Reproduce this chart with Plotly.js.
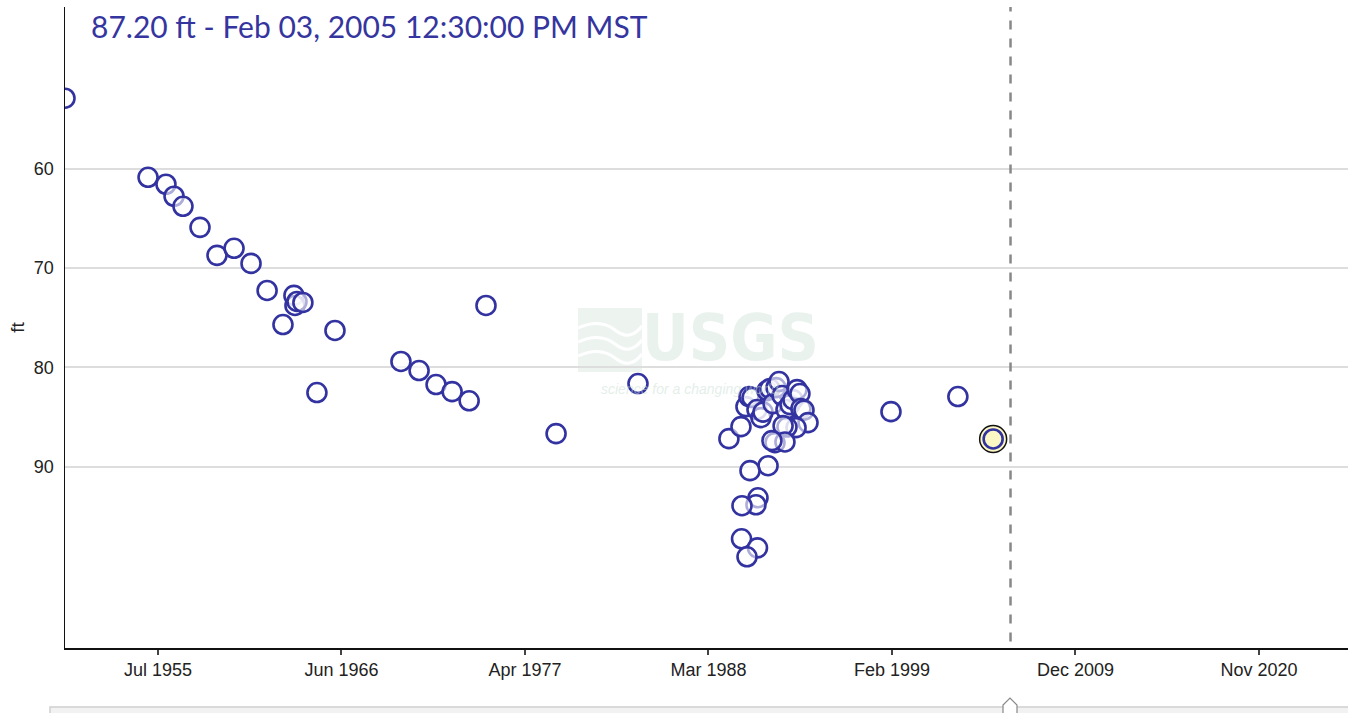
<!DOCTYPE html>
<html>
<head>
<meta charset="utf-8">
<script src="https://cdn.plot.ly/plotly-3.0.1.min.js"></script>
<style>
  html, body { margin: 0; padding: 0; background: #fff; }
  #chart { width: 1348px; height: 713px; }
</style>
</head>
<body>
<div id="chart"></div>
<script>
// ---- data ----
const measurementDates = [
  "1950-01-08", "1954-12-13", "1956-01-05", "1956-06-28", "1957-01-08",
  "1958-01-12", "1959-01-15", "1960-01-20", "1961-01-22", "1962-01-05",
  "1962-12-15", "1963-08-10", "1963-09-01", "1963-10-15", "1964-02-20",
  "1964-12-20", "1966-01-15", "1969-12-15", "1971-01-12", "1972-01-15",
  "1972-12-28", "1974-01-01", "1975-01-01", "1979-02-28", "1984-01-08",
  "1989-06-01", "1990-02-17", "1990-06-05", "1990-08-10", "1990-10-15",
  "1991-01-30", "1991-04-27", "1991-06-10", "1991-09-05", "1991-11-07",
  "1992-01-12", "1992-03-17", "1992-05-22", "1992-07-27", "1992-10-20",
  "1993-01-15", "1993-03-20", "1993-06-16", "1993-08-18", "1993-09-09",
  "1993-11-14", "1994-02-09", "1993-05-26", "1992-11-10", "1992-08-18",
  "1992-02-24", "1992-09-27", "1991-12-20", "1991-09-27", "1990-09-01",
  "1991-02-21", "1991-01-08", "1990-03-11", "1990-03-01", "1991-02-10",
  "1990-06-28", "1999-01-12", "2003-01-01", "2005-02-03 12:30:00"
];
const depthFt = [
  52.90, 60.86, 61.56, 62.77, 63.78,
  65.90, 68.72, 68.01, 69.53, 72.25,
  75.68, 72.75, 73.76, 73.36, 73.46,
  82.53, 76.28, 79.40, 80.31, 81.72,
  82.43, 83.36, 73.76, 86.66, 81.62,
  87.17, 85.96, 83.94, 82.93, 83.03,
  84.24, 85.05, 84.50, 82.33, 82.13,
  83.64, 82.03, 81.42, 82.83, 84.24,
  83.74, 83.24, 82.23, 82.63, 84.14,
  84.30, 85.55, 86.06, 86.00, 85.86,
  87.57, 87.50, 87.37, 89.89, 90.39,
  93.12, 93.82, 93.92, 97.25, 98.16,
  99.06, 84.45, 82.93, 87.20
];
const selectedDate = ["2005-02-03 12:30:00"];
const selectedDepth = [87.20];
const titleText = "87.20 ft - Feb 03, 2005 12:30:00 PM MST";

const xTickVals = ["1955-07-15", "1966-06-04", "1977-04-24", "1988-03-14",
                   "1999-02-02", "2009-12-23", "2020-11-12"];
const xTickText = ["Jul 1955", "Jun 1966", "Apr 1977", "Mar 1988",
                   "Feb 1999", "Dec 2009", "Nov 2020"];
const yTickVals = [60, 70, 80, 90];
const xRange = ["1950-01-08", "2026-02-24"];
const yRange = [108.24, 43.72];
const markerDate = "2006-02-15";

const blue = "#3232a0";

const traces = [
  {
    type: "scatter", mode: "markers",
    x: measurementDates, y: depthFt,
    marker: { symbol: "circle", size: 19, color: "rgba(255,255,255,0.6)",
              line: { color: blue, width: 2.6 } },
    hoverinfo: "x+y", cliponaxis: true
  },
  {
    type: "scatter", mode: "markers",
    x: selectedDate, y: selectedDepth,
    marker: { symbol: "circle", size: 27, color: "#fbf7c4",
              line: { color: "#111", width: 1.5 } },
    hoverinfo: "skip"
  },
  {
    type: "scatter", mode: "markers",
    x: selectedDate, y: selectedDepth,
    marker: { symbol: "circle", size: 19, color: "#fbf7c4",
              line: { color: blue, width: 2.6 } },
    hoverinfo: "skip"
  }
];

const px = v => (v - 65) / 1283;
const py = v => (648 - v) / 641;

const layout = {
  width: 1348, height: 713,
  margin: { l: 65, r: 0, t: 7, b: 65, pad: 0 },
  paper_bgcolor: "#fff", plot_bgcolor: "#fff",
  showlegend: false,
  font: { family: "Liberation Sans, Arial, sans-serif", color: "#222" },
  title: {
    text: titleText,
    x: 91 / 1348, xref: "container", xanchor: "left",
    y: 1 - 27 / 713, yref: "container", yanchor: "middle",
    font: { family: "Lato, sans-serif", size: 30, color: "#3535a0" }
  },
  xaxis: {
    type: "date", range: xRange,
    tickmode: "array", tickvals: xTickVals, ticktext: xTickText,
    showgrid: false, zeroline: false,
    showline: true, linecolor: "#111", linewidth: 1.5,
    ticks: "outside", ticklen: 5, tickwidth: 2, tickcolor: "#444",
    tickfont: { size: 18, color: "#222" }
  },
  yaxis: {
    range: yRange,
    tickmode: "array", tickvals: yTickVals,
    showgrid: true, gridcolor: "#dddddd", gridwidth: 2,
    zeroline: false, showline: true, linecolor: "#111", linewidth: 1.5,
    ticks: "", ticklabelstandoff: 6,
    tickfont: { size: 18, color: "#222" },
    title: { text: "ft", font: { size: 19, color: "#222" }, standoff: 4 }
  },
  shapes: [
    // USGS watermark wave block
    { type: "rect", xref: "paper", yref: "paper", layer: "below",
      x0: px(578), x1: px(642), y0: py(372), y1: py(308),
      fillcolor: "#edf4f0", line: { width: 0 } },
    { type: "path", xref: "paper", yref: "paper", layer: "below",
      path: `M ${px(578)},${py(328)} Q ${px(600)},${py(318)} ${px(615)},${py(330)} T ${px(642)},${py(326)}`,
      line: { color: "#ffffff", width: 3 } },
    { type: "path", xref: "paper", yref: "paper", layer: "below",
      path: `M ${px(578)},${py(342)} Q ${px(600)},${py(332)} ${px(615)},${py(344)} T ${px(642)},${py(340)}`,
      line: { color: "#ffffff", width: 3 } },
    { type: "path", xref: "paper", yref: "paper", layer: "below",
      path: `M ${px(578)},${py(356)} Q ${px(600)},${py(346)} ${px(615)},${py(358)} T ${px(642)},${py(354)}`,
      line: { color: "#ffffff", width: 3 } },
    // dashed vertical marker
    { type: "line", xref: "x", yref: "paper",
      x0: markerDate, x1: markerDate, y0: 0.01, y1: 1,
      line: { color: "#888", width: 2.5, dash: "dash" } },
    // slider bar at bottom
    { type: "rect", xref: "paper", yref: "paper",
      x0: px(50), x1: px(1360), y0: py(730), y1: py(707),
      fillcolor: "#f2f2f2", line: { color: "#cfcfcf", width: 1.5 } },
    { type: "path", xref: "paper", yref: "paper",
      path: `M ${px(1003)},${py(716)} L ${px(1003)},${py(705)} L ${px(1010)},${py(698)} L ${px(1017)},${py(705)} L ${px(1017)},${py(716)} Z`,
      fillcolor: "#ffffff", line: { color: "#888", width: 1.2 } }
  ],
  annotations: [
    { xref: "paper", yref: "paper", x: px(730), y: py(338),
      xanchor: "center", yanchor: "middle", showarrow: false,
      text: "<b>USGS</b>",
      font: { family: "Liberation Sans Narrow, DejaVu Sans Condensed, sans-serif", size: 64, color: "rgba(200,222,210,0.4)" } },
    { xref: "paper", yref: "paper", x: px(690), y: py(389),
      xanchor: "center", yanchor: "middle", showarrow: false,
      text: "<i>science for a changing world</i>",
      font: { family: "Liberation Sans, sans-serif", size: 14, color: "rgba(200,222,210,0.5)" } }
  ]
};

Plotly.newPlot("chart", traces, layout, { displayModeBar: false, staticPlot: true });
</script>
</body>
</html>
